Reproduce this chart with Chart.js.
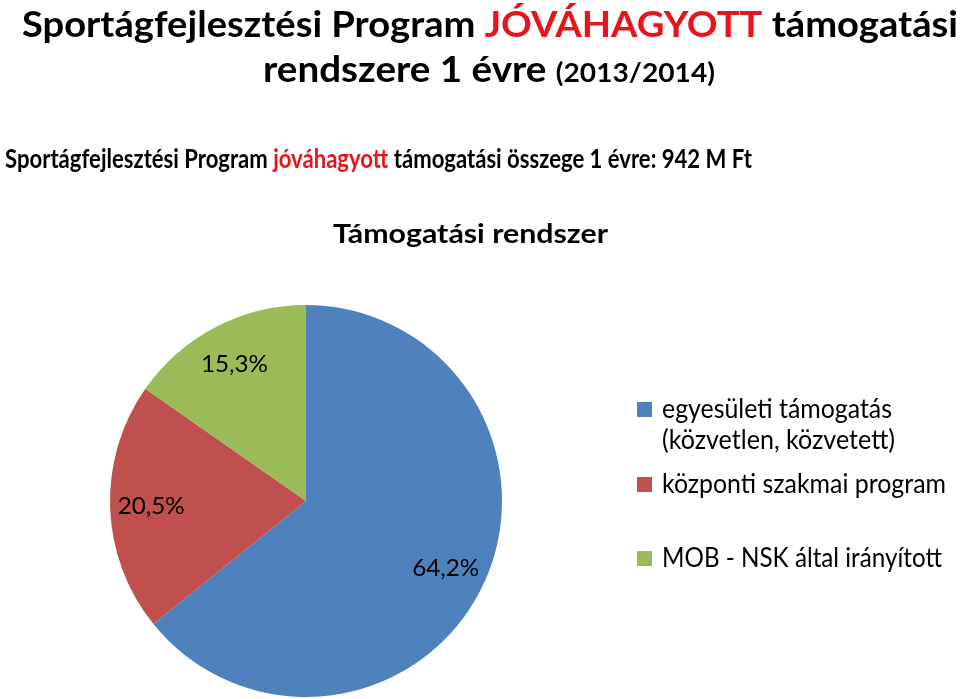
<!DOCTYPE html>
<html>
<head>
<meta charset="utf-8">
<script src="https://cdn.jsdelivr.net/npm/chart.js@4.4.1/dist/chart.umd.min.js"></script>
<style>
    html, body { margin: 0; padding: 0; background: #ffffff; }
    #wrap { width: 960px; height: 699px; position: relative; }
</style>
</head>
<body>
<div id="wrap"><canvas id="chartTamogatas"></canvas></div>
<script>
// adatok
const categories = ['egyesületi támogatás (közvetlen, közvetett)', 'központi szakmai program', 'MOB - NSK által irányított'];
const shares = [64.2, 20.5, 15.3];
const percentLabels = ['64,2%', '20,5%', '15,3%'];
const sliceColors = ['#4F81BD', '#C0504D', '#9BBB59'];
const legendLines = [['egyesületi támogatás', '(közvetlen, közvetett)'], ['központi szakmai program'], ['MOB - NSK által irányított']];

const FONT = 'Lato, "Open Sans", "Noto Sans", sans-serif';
const RED = '#E8141B';

// szöveg kirajzolása, vízszintesen a megadott szélességre igazítva
function drawRun(ctx, parts, x, baseline, width) {
    let total = 0;
    parts.forEach(p => { ctx.font = p.font; total += ctx.measureText(p.text).width; });
    const sx = width / total;
    ctx.save();
    ctx.translate(x, baseline);
    ctx.scale(sx, 1);
    ctx.textAlign = 'left';
    ctx.textBaseline = 'alphabetic';
    let cx = 0;
    parts.forEach(p => {
        ctx.font = p.font;
        ctx.fillStyle = p.color || '#000000';
        ctx.fillText(p.text, cx, 0);
        cx += ctx.measureText(p.text).width;
    });
    ctx.restore();
}

const textPlugin = {
    id: 'textPlugin',
    afterDraw(chart) {
        const ctx = chart.ctx;
        const b37 = 'bold 37px ' + FONT;
        const b27 = 'bold 27px ' + FONT;
        const b26 = 'bold 26px ' + FONT;

        drawRun(ctx, [
            { text: 'Sportágfejlesztési Program ', font: b37 },
            { text: 'JÓVÁHAGYOTT', font: b37, color: RED },
            { text: ' támogatási', font: b37 }
        ], 22, 37, 936);
        drawRun(ctx, [
            { text: 'rendszere 1 évre ', font: b37 },
            { text: '(2013/2014)', font: b27 }
        ], 263, 82, 452);
        drawRun(ctx, [
            { text: 'Sportágfejlesztési Program ', font: b26 },
            { text: 'jóváhagyott', font: b26, color: RED },
            { text: ' támogatási összege 1 évre: 942 M Ft', font: b26 }
        ], 5, 168, 747);
        drawRun(ctx, [{ text: 'Támogatási rendszer', font: 'bold 27px ' + FONT }], 333, 243, 275);

        // százalék feliratok
        const meta = chart.getDatasetMeta(0);
        const lblFont = '24px ' + FONT;
        meta.data.forEach((arc, i) => {
            const p = arc.getProps(['x', 'y', 'startAngle', 'endAngle', 'outerRadius'], true);
            const mid = (p.startAngle + p.endAngle) / 2;
            const r = p.outerRadius * 0.79;
            const lx = p.x + Math.cos(mid) * r;
            const ly = p.y + Math.sin(mid) * r;
            drawRun(ctx, [{ text: percentLabels[i], font: lblFont }], lx - 33.5, ly + 8, 67);
        });

        // jelmagyarázat
        const legFont = '27px ' + FONT;
        const legendRows = [
            { sq: 402, lines: [[418, 230], [449, 233]] },
            { sq: 477, lines: [[493, 284]] },
            { sq: 551, lines: [[567, 280]] }
        ];
        legendRows.forEach((row, i) => {
            ctx.fillStyle = sliceColors[i];
            ctx.fillRect(637, row.sq, 15, 15);
            row.lines.forEach((ln, j) => {
                drawRun(ctx, [{ text: legendLines[i][j], font: legFont }], 662, ln[0], ln[1]);
            });
        });
    }
};

new Chart(document.getElementById('chartTamogatas'), {
    type: 'pie',
    data: {
        labels: categories,
        datasets: [{
            data: shares,
            backgroundColor: sliceColors,
            borderWidth: 0
        }]
    },
    options: {
        responsive: true,
        maintainAspectRatio: false,
        animation: false,
        layout: {
            padding: { left: 110, right: 458, top: 305, bottom: 2 }
        },
        plugins: {
            legend: { display: false },
            tooltip: { enabled: false },
            title: { display: false }
        }
    },
    plugins: [textPlugin]
});
</script>
</body>
</html>
